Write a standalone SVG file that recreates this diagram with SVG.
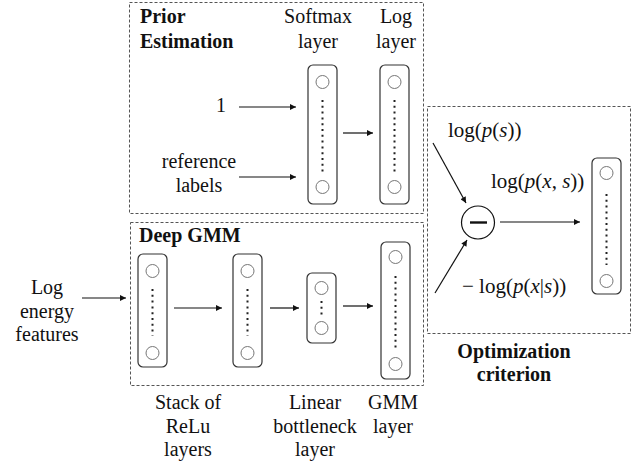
<svg xmlns="http://www.w3.org/2000/svg" width="638" height="465" viewBox="0 0 638 465">
  <defs>
    <marker id="arrow" viewBox="0 0 10 10" refX="10" refY="5" markerWidth="8" markerHeight="6" markerUnits="userSpaceOnUse" orient="auto">
      <path d="M0,0 L10,5 L0,10 z" fill="#111"/>
    </marker>
    <style>
      text { font-family: "Liberation Serif", "Times New Roman", serif; font-size: 20px; fill: #111; }
      .bold { font-weight: bold; }
      .mid { text-anchor: middle; }
      .it { font-style: italic; }
      .math { font-size: 21px; }
      .frame { fill: none; stroke: #555; stroke-width: 1; stroke-dasharray: 3 2; }
      .layer { fill: #fff; stroke: #333; stroke-width: 1.2; }
      .unit { fill: #fff; stroke: #777; stroke-width: 1; }
      .dots { stroke: #222; stroke-width: 2; stroke-dasharray: 2 3.8; fill: none; }
      .edge { stroke: #111; stroke-width: 1.2; fill: none; marker-end: url(#arrow); }
    </style>
  </defs>
  <rect width="638" height="465" fill="#fff"/>

  <!-- dashed section frames -->
  <g id="prior-frame">
    <rect class="frame" x="129.5" y="2.5" width="294" height="211"/>
    <text class="bold" x="140" y="23">Prior</text>
    <text class="bold" x="140" y="48">Estimation</text>
  </g>
  <g id="gmm-frame">
    <rect class="frame" x="130.5" y="222.5" width="293" height="163"/>
    <text class="bold" x="139" y="242">Deep GMM</text>
  </g>
  <g id="opt-frame">
    <rect class="frame" x="427.5" y="106.5" width="203" height="227"/>
    <text class="bold mid" x="514" y="358">Optimization</text>
    <text class="bold mid" x="514" y="381">criterion</text>
  </g>

  <!-- prior estimation inputs -->
  <g id="input-one"><text class="mid" x="221" y="112">1</text></g>
  <g id="input-labels">
    <text class="mid" x="199" y="168">reference</text>
    <text class="mid" x="199" y="192">labels</text>
  </g>

  <!-- softmax layer -->
  <g id="softmax-layer">
    <text class="mid" x="318" y="23">Softmax</text>
    <text class="mid" x="318" y="48">layer</text>
    <rect class="layer" x="308" y="65" width="29" height="139" rx="5"/>
    <circle class="unit" cx="322.5" cy="82" r="6.5"/>
    <line class="dots" x1="322.5" y1="100" x2="322.5" y2="172"/>
    <circle class="unit" cx="322.5" cy="187" r="6.5"/>
  </g>

  <!-- log layer -->
  <g id="log-layer">
    <text class="mid" x="396" y="23">Log</text>
    <text class="mid" x="396" y="48">layer</text>
    <rect class="layer" x="380" y="65" width="29" height="139" rx="5"/>
    <circle class="unit" cx="394.5" cy="82" r="6.5"/>
    <line class="dots" x1="394.5" y1="100" x2="394.5" y2="172"/>
    <circle class="unit" cx="394.5" cy="187" r="6.5"/>
  </g>

  <!-- deep GMM input -->
  <g id="input-features">
    <text class="mid" x="47" y="294">Log</text>
    <text class="mid" x="47" y="318">energy</text>
    <text class="mid" x="47" y="341">features</text>
  </g>

  <!-- ReLU stack -->
  <g id="relu-1">
    <rect class="layer" x="138" y="254" width="29" height="113" rx="5"/>
    <circle class="unit" cx="152.5" cy="271" r="6.5"/>
    <line class="dots" x1="152.5" y1="289" x2="152.5" y2="336"/>
    <circle class="unit" cx="152.5" cy="353" r="6.5"/>
  </g>
  <g id="relu-2">
    <rect class="layer" x="233" y="254" width="29" height="113" rx="5"/>
    <circle class="unit" cx="247.5" cy="271" r="6.5"/>
    <line class="dots" x1="247.5" y1="289" x2="247.5" y2="336"/>
    <circle class="unit" cx="247.5" cy="353" r="6.5"/>
  </g>
  <g id="relu-label">
    <text class="mid" x="188" y="409">Stack of</text>
    <text class="mid" x="188" y="433">ReLu</text>
    <text class="mid" x="188" y="456">layers</text>
  </g>

  <!-- linear bottleneck -->
  <g id="bottleneck">
    <rect class="layer" x="307" y="273" width="29" height="70" rx="5"/>
    <circle class="unit" cx="321.5" cy="288" r="6.5"/>
    <line class="dots" x1="321.5" y1="301" x2="321.5" y2="317"/>
    <circle class="unit" cx="321.5" cy="328" r="6.5"/>
    <text class="mid" x="315" y="409">Linear</text>
    <text class="mid" x="315" y="433">bottleneck</text>
    <text class="mid" x="315" y="456">layer</text>
  </g>

  <!-- GMM layer -->
  <g id="gmm-layer">
    <rect class="layer" x="381" y="242" width="29" height="137" rx="5"/>
    <circle class="unit" cx="395.5" cy="257" r="6.5"/>
    <line class="dots" x1="395.5" y1="276" x2="395.5" y2="348"/>
    <circle class="unit" cx="395.5" cy="364" r="6.5"/>
    <text class="mid" x="393" y="409">GMM</text>
    <text class="mid" x="393" y="433">layer</text>
  </g>

  <!-- optimization criterion -->
  <g id="minus-node">
    <circle cx="478" cy="222.5" r="16.5" fill="#fff" stroke="#111" stroke-width="1.2"/>
    <line x1="470" y1="222.5" x2="487" y2="222.5" stroke="#111" stroke-width="2.4"/>
  </g>
  <g id="criterion-output">
    <rect class="layer" x="592" y="158" width="29" height="136" rx="5"/>
    <circle class="unit" cx="606.5" cy="173" r="6.5"/>
    <line class="dots" x1="606.5" y1="194" x2="606.5" y2="265"/>
    <circle class="unit" cx="606.5" cy="281" r="6.5"/>
  </g>
  <g id="math-labels">
    <text class="math" x="448" y="137">log(<tspan class="it">p</tspan>(<tspan class="it">s</tspan>))</text>
    <text class="math" x="491" y="188">log(<tspan class="it">p</tspan>(<tspan class="it">x</tspan>, <tspan class="it">s</tspan>))</text>
    <text class="math" x="462" y="293">− log(<tspan class="it">p</tspan>(<tspan class="it">x</tspan>|<tspan class="it">s</tspan>))</text>
  </g>

  <!-- connectors -->
  <g id="connectors">
    <line class="edge" x1="239" y1="107" x2="296" y2="107"/>
    <line class="edge" x1="239" y1="177" x2="296" y2="177"/>
    <line class="edge" x1="343" y1="133" x2="373" y2="133"/>
    <line class="edge" x1="82" y1="298" x2="126" y2="298"/>
    <line class="edge" x1="174" y1="308" x2="222" y2="308"/>
    <line class="edge" x1="270" y1="308" x2="299" y2="308"/>
    <line class="edge" x1="343" y1="306" x2="373" y2="306"/>
    <line class="edge" x1="433" y1="143" x2="466" y2="203"/>
    <line class="edge" x1="435" y1="293" x2="467" y2="240"/>
    <line class="edge" x1="500" y1="222" x2="580" y2="222"/>
  </g>
</svg>
